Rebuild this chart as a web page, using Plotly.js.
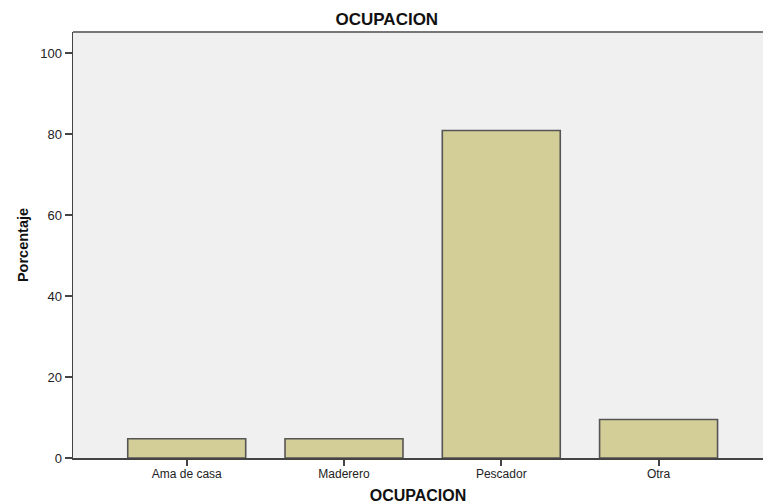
<!DOCTYPE html>
<html>
<head>
<meta charset="utf-8">
<script src="https://cdn.plot.ly/plotly-3.0.1.min.js"></script>
<style>html,body{margin:0;padding:0;background:#fff;}#chart{width:763px;height:504px;}</style>
</head>
<body>
<div id="chart"></div>
<script>
const categories = ["Ama de casa", "Maderero", "Pescador", "Otra"];
const porcentaje = [4.76, 4.76, 80.95, 9.52];
const yTicks = [0, 20, 40, 60, 80, 100];

const trace = {
  type: "bar",
  x: [0, 1, 2, 3],
  y: porcentaje,
  marker: { color: "#d3ce97", line: { color: "#555555", width: 1.6 } },
  hoverinfo: "skip"
};

const layout = {
  width: 763, height: 504,
  margin: { l: 73, r: 0, t: 32, b: 46 },
  paper_bgcolor: "#ffffff",
  plot_bgcolor: "#f0f0f0",
  bargap: 0.25,
  showlegend: false,
  font: { family: "Liberation Sans, Arial, sans-serif", color: "#222" },
  title: { text: "<b>OCUPACION</b>", x: 0.507, xanchor: "center", y: 0.963, yanchor: "middle",
           font: { size: 17, color: "#111", family: "Liberation Sans, Arial, sans-serif" } },
  xaxis: {
    range: [-0.723, 3.664],
    tickvals: [0, 1, 2, 3],
    ticktext: categories,
    ticks: "outside", ticklen: 6, tickwidth: 2, tickcolor: "#444",
    ticklabelstandoff: -2,
    showline: true, linecolor: "#444", linewidth: 1.5, mirror: false,
    showgrid: false, zeroline: false,
    tickfont: { size: 12, color: "#222" },
    title: { text: "<b>OCUPACION</b>", standoff: 11, font: { size: 16, color: "#111" } },
    fixedrange: true
  },
  yaxis: {
    range: [0, 105.3],
    tickvals: yTicks,
    ticks: "outside", ticklen: 7, tickwidth: 2, tickcolor: "#444",
    showline: true, linecolor: "#444", linewidth: 1.5,
    showgrid: false, zeroline: false,
    tickfont: { size: 13, color: "#222" },
    title: { text: "<b>Porcentaje</b>", standoff: 8, font: { size: 14.5, color: "#111" } },
    fixedrange: true
  },
  shapes: [{
    type: "line", xref: "paper", yref: "paper", x0: 0, x1: 1, y0: 1, y1: 1,
    line: { color: "#777777", width: 2 }
  }]
};

Plotly.newPlot("chart", [trace], layout, { displayModeBar: false, staticPlot: true });
</script>
</body>
</html>
